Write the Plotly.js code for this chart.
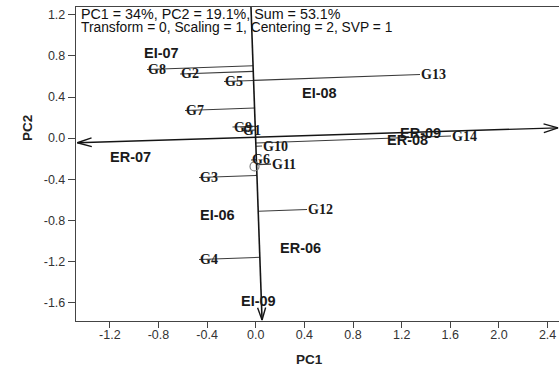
<!DOCTYPE html>
<html>
<head>
<meta charset="utf-8">
<script src="https://cdn.plot.ly/plotly-3.0.1.min.js"></script>
<style>html,body{margin:0;padding:0;background:#fff;}#chart{width:559px;height:371px;}</style>
</head>
<body>
<div id="chart"></div>
<script>
// ---- data ----
const genoNames = ['G1','G2','G3','G4','G5','G6','G7','G8','G9','G10','G11','G12','G13','G14'];
const genoX = [-0.113,-0.622,-0.466,-0.466,-0.261,-0.039,-0.581,-0.894,-0.191,0.052,0.126,0.422,1.351,1.606];
const genoY = [0.074,0.624,-0.383,-1.181,0.551,-0.213,0.269,0.668,0.108,-0.077,-0.253,-0.695,0.619,0.020];

const envNames = ['EI-06','EI-07','EI-08','EI-09','ER-06','ER-07','ER-08','ER-09'];
const envX = [-0.318,-0.779,0.525,0.021,0.367,-1.030,1.250,1.359];
const envY = [-0.748,0.833,0.442,-1.583,-1.067,-0.181,-0.016,0.054];

// vertical axis (top -> bottom arrow) and horizontal axis (double arrow)
const vAxisX = [-0.039, 0.052];
const vAxisY = [1.276, -1.770];
const hAxisX = [-1.467, 2.486];
const hAxisY = [-0.045, 0.100];

// small circle marker
const circX = [-0.010];
const circY = [-0.276];

const xTickVals = [-1.2,-0.8,-0.4,0.0,0.4,0.8,1.2,1.6,2.0,2.4];
const xTickText = ['-1.2','-0.8','-0.4','0.0','0.4','0.8','1.2','1.6','2.0','2.4'];
const yTickVals = [1.2,0.8,0.4,0.0,-0.4,-0.8,-1.2,-1.6];
const yTickText = ['1.2','0.8','0.4','0.0','-0.4','-0.8','-1.2','-1.6'];

const headerLines = ['PC1 = 34%, PC2 = 19.1%, Sum = 53.1%',
                     'Transform = 0, Scaling = 1, Centering = 2, SVP = 1'];

// ---- layout geometry ----
const W = 559, H = 371;
const M = {l:76, r:0, t:7, b:50};
const xRange = [-1.478, 2.494];
const yRange = [-1.780, 1.276];
const plotW = W - M.l - M.r, plotH = H - M.t - M.b;
const kx = plotW / (xRange[1]-xRange[0]);
const ky = plotH / (yRange[1]-yRange[0]);

// perpendicular feet of genotypes on the vertical axis (in screen metric)
const ax0 = vAxisX[0]*kx, ay0 = vAxisY[0]*ky;
const dx = (vAxisX[1]-vAxisX[0])*kx, dy = (vAxisY[1]-vAxisY[0])*ky;
const lineX = [], lineY = [];
for (let i=0;i<genoNames.length;i++){
  const px = genoX[i]*kx, py = genoY[i]*ky;
  const t = ((px-ax0)*dx + (py-ay0)*dy)/(dx*dx+dy*dy);
  const fx = (ax0 + t*dx)/kx, fy = (ay0 + t*dy)/ky;
  lineX.push(genoX[i], fx, null);
  lineY.push(genoY[i], fy, null);
}

// open chevron arrowheads computed from the axis end points
function chevron(tipX, tipY, fromX, fromY, len, ang){
  const ux = (tipX-fromX)*kx, uy = (tipY-fromY)*ky;
  const n = Math.hypot(ux, uy);
  const cx = ux/n, cy = uy/n;
  const pts = [];
  for (const s of [1,-1]){
    const a = Math.PI + s*ang;
    const bx = cx*Math.cos(a) - cy*Math.sin(a);
    const by = cx*Math.sin(a) + cy*Math.cos(a);
    pts.push([tipX + bx*len/kx, tipY + by*len/ky]);
  }
  return {x:[pts[0][0], tipX, pts[1][0], null], y:[pts[0][1], tipY, pts[1][1], null]};
}
const headLen = 15, headAng = 17*Math.PI/180;
const hR = chevron(hAxisX[1], hAxisY[1], hAxisX[0], hAxisY[0], headLen, headAng);
const hL = chevron(hAxisX[0], hAxisY[0], hAxisX[1], hAxisY[1], headLen, headAng);
const vB = chevron(vAxisX[1], vAxisY[1], vAxisX[0], vAxisY[0], 13, 18*Math.PI/180);
const headX = [].concat(hR.x, hL.x, vB.x), headY = [].concat(hR.y, hL.y, vB.y);

const traces = [
  {x: lineX, y: lineY, mode:'lines', type:'scatter',
   line:{color:'#3a3a3a', width:1.1}, hoverinfo:'skip', showlegend:false},
  {x: hAxisX, y: hAxisY, mode:'lines', type:'scatter',
   line:{color:'#151515', width:1.4}, hoverinfo:'skip', showlegend:false},
  {x: vAxisX, y: vAxisY, mode:'lines', type:'scatter',
   line:{color:'#151515', width:1.6}, hoverinfo:'skip', showlegend:false},
  {x: headX, y: headY, mode:'lines', type:'scatter',
   line:{color:'#151515', width:1.4}, hoverinfo:'skip', showlegend:false},
  {x: circX, y: circY, mode:'markers', type:'scatter',
   marker:{symbol:'circle-open', size:9, color:'#808080', line:{width:1.2}},
   hoverinfo:'skip', showlegend:false}
];

const annotations = [];
// genotype labels
for (let i=0;i<genoNames.length;i++){
  annotations.push({x:genoX[i], y:genoY[i], xref:'x', yref:'y', text:genoNames[i], showarrow:false,
    xanchor:'left', yanchor:'middle', borderpad:0,
    font:{family:'Liberation Serif, Times New Roman, serif', size:14, color:'#1a1a1a', weight:'bold'}});
}
// environment labels
for (let i=0;i<envNames.length;i++){
  annotations.push({x:envX[i], y:envY[i], xref:'x', yref:'y', text:'<b>'+envNames[i]+'</b>', showarrow:false,
    xanchor:'center', yanchor:'middle', borderpad:0,
    font:{family:'Liberation Sans, Arial, sans-serif', size:14.5, color:'#1a1a1a'}});
}
// header text
annotations.push({x:(80-M.l)/plotW, y:(H-M.b-14)/plotH, xref:'paper', yref:'paper', text:headerLines[0],
  showarrow:false, xanchor:'left', yanchor:'middle', borderpad:0,
  font:{family:'Liberation Sans, Arial, sans-serif', size:14.3, color:'#111'}});
annotations.push({x:(80-M.l)/plotW, y:(H-M.b-27.5)/plotH, xref:'paper', yref:'paper', text:headerLines[1],
  showarrow:false, xanchor:'left', yanchor:'middle', borderpad:0,
  font:{family:'Liberation Sans, Arial, sans-serif', size:13.8, color:'#111'}});
// axis titles
annotations.push({x:(309-M.l)/plotW, y:(H-M.b-359)/plotH, xref:'paper', yref:'paper', text:'<b>PC1</b>',
  showarrow:false, xanchor:'center', yanchor:'middle',
  font:{family:'Liberation Sans, Arial, sans-serif', size:13.5, color:'#222'}});
annotations.push({x:(27-M.l)/plotW, y:(H-M.b-128)/plotH, xref:'paper', yref:'paper', text:'<b>PC2</b>',
  showarrow:false, xanchor:'center', yanchor:'middle', textangle:-90,
  font:{family:'Liberation Sans, Arial, sans-serif', size:13.5, color:'#222'}});

const layout = {
  width:W, height:H, margin:M,
  paper_bgcolor:'#fff', plot_bgcolor:'#fff',
  showlegend:false,
  xaxis:{range:xRange, showgrid:false, zeroline:false, showline:true, linecolor:'#444', linewidth:1.2,
    mirror:true, ticks:'outside', ticklen:6, tickcolor:'#444', tickwidth:1,
    tickvals:xTickVals, ticktext:xTickText, ticklabelstandoff:-4,
    tickfont:{family:'Liberation Sans, Arial, sans-serif', size:12.5, color:'#333'}},
  yaxis:{range:yRange, showgrid:false, zeroline:false, showline:true, linecolor:'#444', linewidth:1.2,
    mirror:false, ticks:'outside', ticklen:7, tickcolor:'#444', tickwidth:1,
    tickvals:yTickVals, ticktext:yTickText,
    tickfont:{family:'Liberation Sans, Arial, sans-serif', size:12.5, color:'#333'}},
  annotations:annotations
};

Plotly.newPlot('chart', traces, layout, {staticPlot:true, displayModeBar:false});
</script>
</body>
</html>
